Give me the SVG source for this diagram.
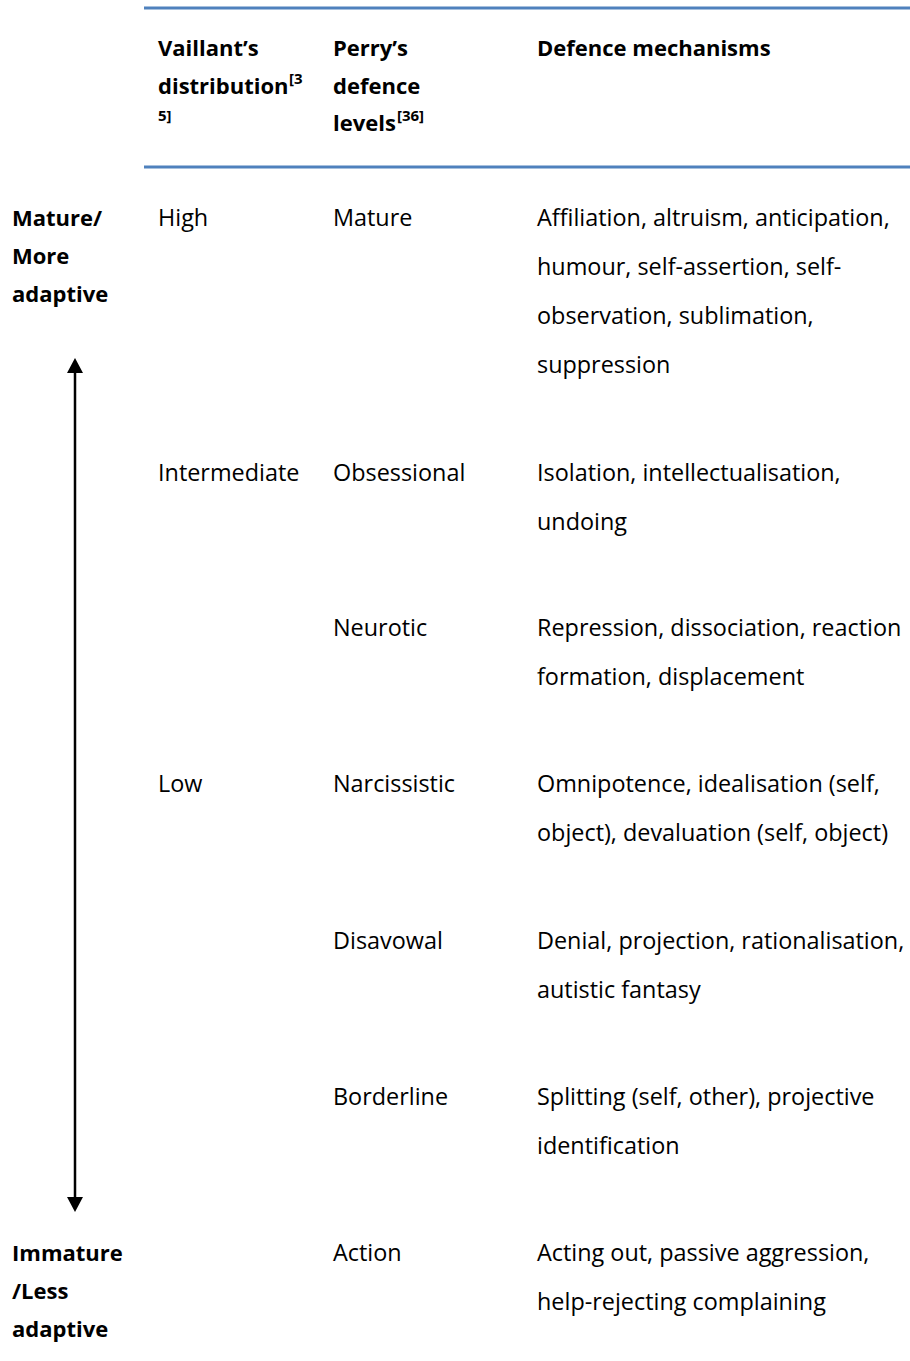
<svg xmlns="http://www.w3.org/2000/svg" width="910" height="1361" viewBox="0 0 910 1361">
<style>
text{font-family:"Open Sans","Liberation Sans",sans-serif;font-size:23.4px;fill:#000}
.b{font-weight:bold;font-size:22px}
.sup{font-size:15px;font-weight:bold}
.rule{stroke:#4f81bd;stroke-width:3}
</style>
<rect width="910" height="1361" fill="#fff"/>
<g id="header">
<line class="rule" x1="144" y1="8" x2="910" y2="8"/>
<line class="rule" x1="144" y1="167" x2="910" y2="167"/>
<text class="b" x="158" y="56">Vaillant’s</text>
<text class="b" x="158" y="94">distribution</text>
<text class="sup" x="289" y="84">[3</text>
<text class="sup" x="158" y="121">5]</text>
<text class="b" x="333" y="56">Perry’s</text>
<text class="b" x="333" y="94">defence</text>
<text class="b" x="333" y="131">levels</text>
<text class="sup" x="397" y="121">[36]</text>
<text class="b" x="537" y="56">Defence mechanisms</text>
</g>
<g id="label-mature">
<text class="b" x="12" y="226">Mature/</text>
<text class="b" x="12" y="264">More</text>
<text class="b" x="12" y="302">adaptive</text>
</g>
<g id="label-immature">
<text class="b" x="12" y="1261">Immature</text>
<text class="b" x="12" y="1299">/Less</text>
<text class="b" x="12" y="1337">adaptive</text>
</g>
<g id="row-mature">
<text x="158" y="226">High</text>
<text x="333" y="226">Mature</text>
<text x="537" y="226">Affiliation, altruism, anticipation,</text>
<text x="537" y="275">humour, self-assertion, self-</text>
<text x="537" y="324">observation, sublimation,</text>
<text x="537" y="373">suppression</text>
</g>
<g id="row-obsessional">
<text x="158" y="481">Intermediate</text>
<text x="333" y="481">Obsessional</text>
<text x="537" y="481">Isolation, intellectualisation,</text>
<text x="537" y="530">undoing</text>
</g>
<g id="row-neurotic">
<text x="333" y="636">Neurotic</text>
<text x="537" y="636">Repression, dissociation, reaction</text>
<text x="537" y="685">formation, displacement</text>
</g>
<g id="row-narcissistic">
<text x="158" y="792">Low</text>
<text x="333" y="792">Narcissistic</text>
<text x="537" y="792">Omnipotence, idealisation (self,</text>
<text x="537" y="841">object), devaluation (self, object)</text>
</g>
<g id="row-disavowal">
<text x="333" y="949">Disavowal</text>
<text x="537" y="949">Denial, projection, rationalisation,</text>
<text x="537" y="998">autistic fantasy</text>
</g>
<g id="row-borderline">
<text x="333" y="1105">Borderline</text>
<text x="537" y="1105">Splitting (self, other), projective</text>
<text x="537" y="1154">identification</text>
</g>
<g id="row-action">
<text x="333" y="1261">Action</text>
<text x="537" y="1261">Acting out, passive aggression,</text>
<text x="537" y="1310">help-rejecting complaining</text>
</g>
<g id="connectors">
<line x1="75" y1="372" x2="75" y2="1198" stroke="#000" stroke-width="2.5"/>
<polygon points="75,358 67,373 83,373" fill="#000"/>
<polygon points="75,1212 67,1197 83,1197" fill="#000"/>
</g>
</svg>
